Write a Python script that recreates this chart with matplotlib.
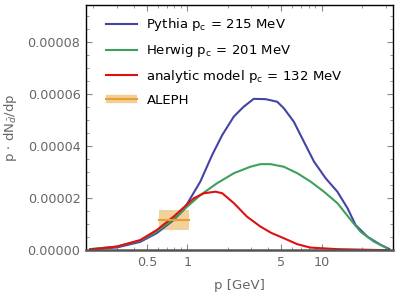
import numpy as np
import matplotlib.pyplot as plt
from matplotlib.lines import Line2D
from matplotlib.ticker import FixedLocator, FuncFormatter

# momentum grid points (GeV) and p*dN/dp values (units of 1e-5)
p_pythia = [0.189, 0.299, 0.446, 0.594, 0.79, 0.938, 1.25, 1.53, 1.82, 2.22, 2.63,
            3.12, 3.82, 4.67, 5.23, 6.21, 7.38, 8.77, 10.7, 13.1, 15.6, 17.9, 21.9,
            27.6, 31.8]
y_pythia = [0.04, 0.115, 0.33, 0.67, 1.17, 1.56, 2.65, 3.67, 4.44, 5.15, 5.53,
            5.83, 5.82, 5.72, 5.47, 4.95, 4.18, 3.42, 2.78, 2.26, 1.62, 0.98, 0.53,
            0.21, 0.06]

p_herwig = [0.189, 0.299, 0.446, 0.594, 0.79, 0.938, 1.25, 1.66, 2.22, 2.95, 3.5,
            4.16, 5.23, 6.59, 8.27, 10.4, 13.1, 16.5, 19.5, 24.5, 30.9]
y_herwig = [0.05, 0.15, 0.38, 0.73, 1.21, 1.56, 2.13, 2.58, 2.97, 3.22, 3.32,
            3.32, 3.22, 2.97, 2.65, 2.26, 1.82, 1.17, 0.72, 0.34, 0.08]

p_model = [0.189, 0.299, 0.446, 0.594, 0.79, 0.938, 1.12, 1.33, 1.62, 1.82, 2.22,
           2.78, 3.5, 4.2, 5.23, 6.59, 8.27, 13.1, 30.9]
y_model = [0.04, 0.15, 0.40, 0.79, 1.30, 1.65, 2.01, 2.20, 2.26, 2.20, 1.82,
           1.30, 0.92, 0.68, 0.47, 0.24, 0.11, 0.05, 0.01]

# ALEPH measurement: momentum bin, central value and error (units of 1e-5)
aleph_bin = [0.62, 1.03]
aleph_val = 1.17
aleph_err = 0.40

labels = [r'Pythia p$_\mathregular{c}$$\mathregular{\,=\,}$215 MeV',
          r'Herwig p$_\mathregular{c}$$\mathregular{\,=\,}$201 MeV',
          r'analytic model p$_\mathregular{c}$$\mathregular{\,=\,}$132 MeV',
          'ALEPH']

c_blue = '#4444a6'
c_green = '#3fa05c'
c_red = '#dd1111'
c_orange = '#e8a030'
c_band = '#eec27a'
grey = '#666666'

scale = 1e-5

fig = plt.figure(figsize=(3.99, 2.95), dpi=100)
ax = fig.add_axes([0.2155, 0.151, 0.7695, 0.832])

ax.plot(p_pythia, np.array(y_pythia) * scale, color=c_blue, lw=1.5)
ax.plot(p_herwig, np.array(y_herwig) * scale, color=c_green, lw=1.5)
ax.plot(p_model, np.array(y_model) * scale, color=c_red, lw=1.5)

ax.fill_between(aleph_bin, (aleph_val - aleph_err) * scale, (aleph_val + aleph_err) * scale,
                color=c_band, alpha=0.75, lw=0)
ax.plot(aleph_bin, [aleph_val * scale] * 2, color=c_orange, lw=1.5)

ax.set_xscale('log')
ax.set_xlim(0.176, 34.0)
ax.set_ylim(0, 9.44e-5)

ax.xaxis.set_major_locator(FixedLocator([0.5, 1, 5, 10]))
ax.xaxis.set_minor_locator(FixedLocator([0.2, 0.3, 0.4, 0.6, 0.7, 0.8, 0.9,
                                         2, 3, 4, 6, 7, 8, 9, 20, 30]))
ax.xaxis.set_major_formatter(FuncFormatter(lambda v, pos: '%g' % v))
ax.xaxis.set_minor_formatter(FuncFormatter(lambda v, pos: ''))
ax.yaxis.set_major_locator(FixedLocator(np.arange(0, 9e-5, 2e-5)))
ax.yaxis.set_minor_locator(FixedLocator(np.arange(0, 9.5e-5, 0.5e-5)))
ax.yaxis.set_major_formatter(FuncFormatter(lambda v, pos: '%.5f' % v))

ax.tick_params(which='both', direction='in', top=True, right=True,
               labelsize=9.2, labelcolor=grey, color='#888888')
ax.tick_params(which='major', length=4, width=0.8, pad=4)
ax.tick_params(which='minor', length=2.2, width=0.6)

for side in ['top', 'right', 'left']:
    ax.spines[side].set_color('black')
    ax.spines[side].set_linewidth(1.0)
ax.spines['bottom'].set_color('#555555')
ax.spines['bottom'].set_linewidth(1.8)

ax.set_xlabel('p [GeV]', fontsize=9.5, color=grey, labelpad=7)
ax.set_ylabel(r'p $\cdot$ dN$_{\bar{d}}$/dp', fontsize=9.5, color=grey, labelpad=6)

handles = [Line2D([], [], color=c_blue, lw=1.5),
           Line2D([], [], color=c_green, lw=1.5),
           Line2D([], [], color=c_red, lw=1.5),
           (Line2D([], [], color=c_band, lw=6, alpha=0.8, solid_capstyle='butt'),
            Line2D([], [], color=c_orange, lw=1.5))]
ax.legend(handles, labels, loc='upper left', bbox_to_anchor=(0.027, 1.003),
          frameon=False, fontsize=9.5, handlelength=2.35, handletextpad=0.7,
          labelspacing=0.68)

fig.savefig('out.png', dpi=100)
